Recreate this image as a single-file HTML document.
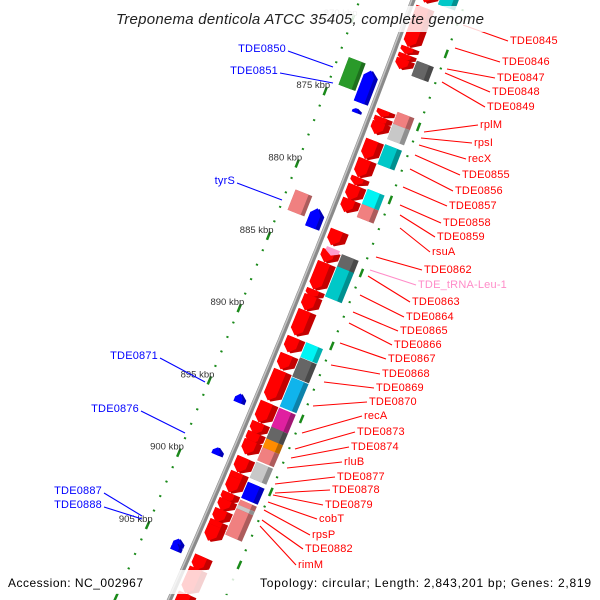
<!DOCTYPE html>
<html><head><meta charset="utf-8"><style>
html,body{margin:0;padding:0;background:#fff;width:600px;height:600px;overflow:hidden}
svg{display:block;overflow:hidden;font-family:"Liberation Sans","DejaVu Sans",sans-serif}
</style></head><body>
<svg id="map" width="600" height="600" viewBox="0 0 600 600" xmlns="http://www.w3.org/2000/svg">
<defs><clipPath id="frame"><rect x="0" y="0" width="600" height="600"/></clipPath></defs>
<g clip-path="url(#frame)">
<g id="ticks"></g>
<path id="backbone" fill="none" stroke="#8a8a8a" stroke-width="5"/>
<path id="backbone-hl" fill="none" stroke="#c4c4c4" stroke-width="1.5"/>
<g id="genes"></g>
<g id="labels"></g>
<rect x="110" y="6" width="380" height="26" fill="#fff" fill-opacity="0.82"/>
<text x="300" y="24" text-anchor="middle" font-style="italic" font-size="15" textLength="368" fill="#222">Treponema denticola ATCC 35405, complete genome</text>
<rect x="0" y="570" width="600" height="24" fill="#fff" fill-opacity="0.82"/>
<text x="8" y="587" font-size="12" textLength="135" fill="#000">Accession: NC_002967</text>
<text x="260" y="587" font-size="12" textLength="331" fill="#000">Topology: circular; Length: 2,843,201 bp; Genes: 2,819</text>
</g>
</svg>
<script>
// forward-strand (red) genes, kbp
const redStart=[866.5,867.7,870.45,870.93,871.28,874.79,875.27,875.62,876.85,878.16,879.4,879.95,880.91,883.04,884.43,885.26,887.12,887.53,888.56,890.41,891.58,892.68,894.88,896.26,896.95,897.5,898.67,899.7,900.05,901.08,901.56,902.25,903.01,903.35,905.45,906.28,908.0];
const redEnd=[867.4,870.45,870.93,871.42,871.97,875.27,875.82,876.44,878.16,879.4,879.95,880.98,881.8,884.08,885.26,887.12,887.67,888.56,890.28,891.44,892.62,894.75,896.26,897.09,897.77,898.46,899.7,900.39,901.08,901.77,902.32,903.14,903.63,904.39,906.42,908.0,909.6];
// tRNA
const trnaStart=[884.22];
const trnaEnd=[884.7];
// outer track blocks
const outStart=[866.3,871.07,874.58,875.4,876.8,879.87,880.9,884.35,885.18,890.4,891.44,892.8,894.9,896.2,897.0,897.6,898.6,899.97,901.2,901.55,901.8];
const outEnd=[867.2,872.1,875.4,876.44,878.16,880.9,881.8,885.25,887.25,891.4,892.75,894.8,896.2,897.0,897.6,898.5,899.7,901.07,901.55,901.8,903.6];
const outColor=["#00c8c8","#666666","#f08080","#c8c8c8","#00c8c8","#00f4f4","#f08080","#666666","#00c8c8","#00f4f4","#666666","#10b4ec","#e020a0","#666666","#ff8c00","#f08080","#c8c8c8","#0000ff","#f08080","#c8c8c8","#f08080"];
// reverse strand (left) genes
const leftStart=[872.4,872.7,875.3,881.6,882.2,895.0,898.7,905.0,905.3];
const leftEnd=[874.3,874.9,875.6,883.0,883.5,895.6,899.2,905.5,905.8];
const leftColor=["#2a9a2a","#0000ff","#0000ff","#f08080","#0000ff","#0000ff","#0000ff","#0000ff","#0000ff"];
const leftInner=[-22,-5,-8,-24,-5,-8,-8,-8,-8];
const leftOuter=[-40,-20,-18,-42,-20,-20,-20,-20,-20];
const leftArrow=[false,true,true,false,true,true,true,true,true];
// ticks
const tickMin=866, tickMax=910;
const tickLabels=["870 kbp","875 kbp","880 kbp","885 kbp","890 kbp","895 kbp","900 kbp","905 kbp"];
const tickLabelKbp=[870,875,880,885,890,895,900,905];
// right labels
const rightNames=["TDE0845","TDE0846","TDE0847","TDE0848","TDE0849","rplM","rpsI","recX","TDE0855","TDE0856","TDE0857","TDE0858","TDE0859","rsuA","TDE0862","TDE_tRNA-Leu-1","TDE0863","TDE0864","TDE0865","TDE0866","TDE0867","TDE0868","TDE0869","TDE0870","recA","TDE0873","TDE0874","rluB","TDE0877","TDE0878","TDE0879","cobT","rpsP","TDE0882","rimM"];
const rightFrom=[[463,25],[455,48],[447,69],[445,73],[442,82],[424,132],[421,138],[419,145],[415,155],[410,169],[403,187],[400,205],[400,215],[400,228],[376,257],[370,270],[368,276],[360,295],[353,312],[349,323],[340,343],[331,365],[324,382],[313,406],[302,433],[295,449],[291,458],[287,468],[275,484],[275,493],[273,495],[268,502],[264,510],[262,520],[260,526]];
const rightTo=[[508,41],[500,62],[495,78],[490,92],[485,107],[478,125],[472,143],[466,159],[460,175],[453,191],[447,206],[441,223],[435,237],[430,252],[422,270],[416,285],[410,302],[404,317],[398,331],[392,345],[386,359],[380,374],[374,388],[367,402],[362,416],[355,432],[349,447],[342,462],[335,477],[330,490],[323,505],[317,519],[310,535],[303,549],[296,565]];
const leftNames=["TDE0850","TDE0851","tyrS","TDE0871","TDE0876","TDE0887","TDE0888"];
const leftFrom=[[288,51],[280,73],[237,183],[160,358],[141,411],[104,493],[104,507]];
const leftTo=[[333,67],[333,83],[282,200],[205,382],[185,433],[142,516],[142,519]];

const NS="http://www.w3.org/2000/svg";
function bx(y){return 413-0.37*y-0.00006*y*y;}
function P(k,r){
  const y0=36.4+(k-870)*14.53;
  const x0=bx(y0);
  const s=-0.37-0.00012*y0, L=Math.sqrt(1+s*s);
  const tx=s/L, ty=1/L;
  return [x0+r*ty, y0-r*tx];
}
function pts(a){return a.map(p=>p[0].toFixed(1)+","+p[1].toFixed(1)).join(" ");}
function shape(k0,k1,r0,r1,arrow,up){
  const h=Math.min(6/15.5,(k1-k0)*0.5);const rm=(r0+r1)/2;
  if(!arrow) return [P(k0,r0),P(k0,r1),P(k1,r1),P(k1,r0)];
  if(up) return [P(k0,rm),P(k0+h,r1),P(k1,r1),P(k1,r0),P(k0+h,r0)];
  return [P(k0,r0),P(k0,r1),P(k1-h,r1),P(k1,rm),P(k1-h,r0)];
}
function poly(g,a,fill,name){
  const e=document.createElementNS(NS,"polygon");
  e.setAttribute("points",pts(a));e.setAttribute("fill",fill);
  
  
  g.appendChild(e);return e;
}
function shade(c){
  const n=parseInt(c.slice(1),16);let r=n>>16,g=(n>>8)&255,b=n&255;
  r=Math.round(r*0.72);g=Math.round(g*0.72);b=Math.round(b*0.72);
  return "rgb("+r+","+g+","+b+")";
}
// backbone
let d="";for(let y=-10;y<=610;y+=5){d+=(y==-10?"M":"L")+bx(y).toFixed(1)+","+y+" ";}
document.getElementById("backbone").setAttribute("d",d);
let d2="";for(let y=-10;y<=610;y+=5){d2+=(y==-10?"M":"L")+(bx(y)-1.3).toFixed(1)+","+y+" ";}
document.getElementById("backbone-hl").setAttribute("d",d2);
// ticks
const tg=document.getElementById("ticks");
for(let k=tickMin;k<=tickMax;k++){
  [-50,50].forEach(r=>{
    const major=k%5==0;const w=major?0.28:0.06;
    const a=P(k-w,r),b=P(k+w,r);
    const l=document.createElementNS(NS,"line");
    l.setAttribute("x1",a[0]);l.setAttribute("y1",a[1]);l.setAttribute("x2",b[0]);l.setAttribute("y2",b[1]);
    l.setAttribute("stroke","#1a8a1a");l.setAttribute("stroke-width",major?2.5:2.2);
    
    
    tg.appendChild(l);
  });
}
tickLabelKbp.forEach((k,i)=>{
  const p=P(k,-50);
  const t=document.createElementNS(NS,"text");
  t.setAttribute("x",(p[0]+5).toFixed(1));t.setAttribute("y",(p[1]-3).toFixed(1));
  t.setAttribute("text-anchor","end");t.setAttribute("font-size","9.5");t.setAttribute("fill",k==870?"#aaa":"#333");
  t.textContent=tickLabels[i];
  
  
  tg.appendChild(t);
});
// genes
const gg=document.getElementById("genes");
redStart.forEach((s,i)=>{
  poly(gg,shape(s,redEnd[i],5,24,true,false),"#c40000","forward-gene");
  poly(gg,shape(s,redEnd[i],5,18,true,false),"#ff0000","forward-gene-face");
});
trnaStart.forEach((s,i)=>{poly(gg,shape(s,trnaEnd[i],8,22,true,false),"#ff9ccc","trna-gene");});
outStart.forEach((s,i)=>{
  poly(gg,shape(s,outEnd[i],25,43,false,false),shade(outColor[i]),"feature-block");
  poly(gg,shape(s,outEnd[i],25,38,false,false),outColor[i],"feature-block-face");
});
leftStart.forEach((s,i)=>{
  poly(gg,shape(s,leftEnd[i],leftOuter[i],leftInner[i],leftArrow[i],true),shade(leftColor[i]),"reverse-gene");
  poly(gg,shape(s,leftEnd[i],leftOuter[i],leftInner[i]-4,leftArrow[i],true),leftColor[i],"reverse-gene-face");
});
// labels
const lg=document.getElementById("labels");
function lab(name,from,to,color,anchor,key){
  const l=document.createElementNS(NS,"line");
  l.setAttribute("x1",from[0]);l.setAttribute("y1",from[1]);l.setAttribute("x2",to[0]);l.setAttribute("y2",to[1]);
  l.setAttribute("stroke",color);l.setAttribute("stroke-width","1.1");
  
  
  lg.appendChild(l);
  const t=document.createElementNS(NS,"text");
  const tx=anchor=="start"?to[0]+2:from[0]-2;
  const ty=anchor=="start"?to[1]+3:from[1]+1;
  t.setAttribute("x",tx);t.setAttribute("y",ty);t.setAttribute("text-anchor",anchor);
  t.setAttribute("font-size","11");t.setAttribute("letter-spacing","0.2");t.setAttribute("fill",color);
  t.textContent=name;
  
  
  lg.appendChild(t);
}
rightNames.forEach((n,i)=>lab(n,rightFrom[i],rightTo[i],n.indexOf("tRNA")>=0?"#ff8cc8":"#ff0000","start","gene-label"));
leftNames.forEach((n,i)=>lab(n,leftFrom[i],leftTo[i],"#0000ff","end","gene-label"));
</script>
</body></html>
